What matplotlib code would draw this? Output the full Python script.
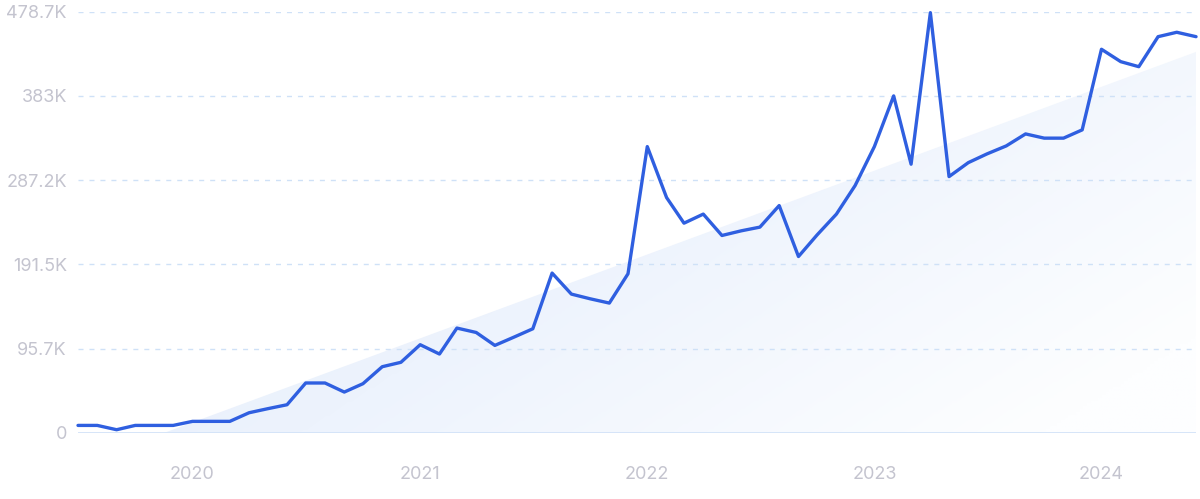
import numpy as np
import pandas as pd
import matplotlib
matplotlib.use("Agg")
import matplotlib.pyplot as plt
from matplotlib.patches import Polygon
import matplotlib.dates as mdates
from matplotlib.colors import LinearSegmentedColormap

# monthly values, Jul 2019 .. Jun 2024
months = pd.date_range("2019-07-01", periods=60, freq="MS")
values = [8.6, 8.6, 3.7, 8.6, 8.6, 8.6, 13.2, 13.2, 13.2, 23.0,
          27.6, 32.1, 56.8, 56.8, 46.5, 56.0, 75.3, 80.3, 100.3, 89.7,
          119.2, 114.2, 99.5, 109.0, 118.4, 181.7, 157.8, 152.5, 147.6, 180.9,
          325.4, 267.5, 238.4, 248.7, 224.4, 229.7, 233.9, 258.4, 200.5, 225.1,
          248.7, 281.1, 325.4, 383.0, 305.4, 477.6, 291.3, 307.2, 317.1, 326.2,
          339.8, 335.0, 335.0, 344.4, 436.0, 421.9, 416.2, 450.3, 455.3, 450.3]
values = np.array(values) * 1000

# trend line end points (first and last month)
trend_start = -36000
trend_end = 433000

yticks = [0, 95700, 191500, 287200, 383000, 478700]
ylabels = ["0", "95.7K", "191.5K", "287.2K", "383K", "478.7K"]
years = ["2020", "2021", "2022", "2023", "2024"]

plt.rcParams['font.family'] = ['Inter', 'DejaVu Sans']

fig = plt.figure(figsize=(12, 4.99), dpi=100)
ax = fig.add_axes([0.065, 0.1323, 0.9317, 0.8443])

x0 = mdates.date2num(months[0])
x1 = mdates.date2num(months[-1])
ax.set_xlim(x0, x1)
ax.set_ylim(0, 478700)

# gradient trend area
cmap = LinearSegmentedColormap.from_list("g", ["#e1ecfb", "#edf3fd", "#fdfeff"])
gx, gy = np.meshgrid(np.linspace(0, 1, 300), np.linspace(1, 0, 150))
grad = (gx * 0.75 + (1 - gy) * 0.45)
img = ax.imshow(grad, extent=[x0, x1, 0, 478700], aspect="auto",
                cmap=cmap, vmin=0.1, vmax=1.1, zorder=1, interpolation="bilinear")
poly = Polygon([(x0, trend_start), (x1, trend_end), (x1, 0), (x0, 0)],
               closed=True, facecolor="none", edgecolor="none")
ax.add_patch(poly)
img.set_clip_path(poly)

for yv in yticks[1:]:
    ax.axhline(yv, color="#cfe1f7", lw=1, dashes=(3.6, 4.3), zorder=2)
ax.axhline(0, color="#d3e3f8", lw=1.3, zorder=2)

ax.plot(months, values, color="#2f5fe0", lw=2.4, zorder=3,
        solid_joinstyle="round", solid_capstyle="round", clip_on=False)

for s in ax.spines.values():
    s.set_visible(False)

ax.set_yticks(yticks)
ax.set_yticklabels(ylabels)
ax.set_xticks([mdates.date2num(pd.Timestamp(y + "-01-01")) for y in years])
ax.set_xticklabels(years)
ax.tick_params(axis="y", length=0, pad=8, labelsize=13, labelcolor="#c4c4cf")
ax.tick_params(axis="x", length=0, pad=24, labelsize=13, labelcolor="#c4c4cf")

fig.savefig("out.png", dpi=100)
